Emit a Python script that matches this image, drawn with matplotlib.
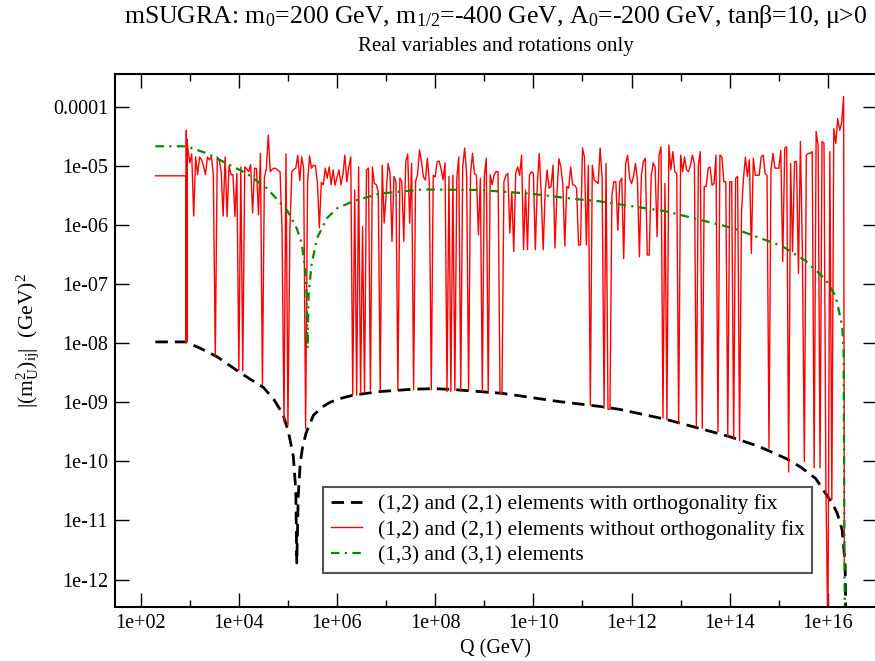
import numpy as np
import matplotlib
matplotlib.use("Agg")
import matplotlib.pyplot as plt
from matplotlib.ticker import FixedLocator, NullLocator, FuncFormatter, NullFormatter

# --- fonts: Times-like serif, mathtext in the same family ---
plt.rcParams["font.family"] = ["Liberation Serif", "DejaVu Serif"]
plt.rcParams["mathtext.fontset"] = "custom"
plt.rcParams["mathtext.rm"] = "Liberation Serif"
plt.rcParams["mathtext.it"] = "Liberation Serif:italic"
plt.rcParams["mathtext.bf"] = "Liberation Serif:bold"

# --- data, all as log10 values ---
# (1,2)/(2,1) elements with orthogonality fix
black_logq = [2.30, 2.93, 3.22, 3.555, 3.99, 4.25, 4.50, 4.71, 4.896, 5.01, 5.11, 5.16,
              5.18, 5.21, 5.25, 5.30, 5.37, 5.52, 5.70, 5.86, 6.10, 6.33, 6.87, 7.55,
              8.00, 8.43, 9.37, 10.53, 11.34, 11.75, 12.70, 13.99, 14.60, 15.14, 15.45,
              15.75, 15.95, 16.09, 16.19, 16.29, 16.35, 16.37]
black_logv = [-7.98, -7.98, -8.09, -8.23, -8.48, -8.62, -8.75, -8.95, -9.20, -9.50, -9.92, -10.5,
              -11.72, -10.6, -10.03, -9.75, -9.52, -9.22, -9.08, -9.00, -8.93, -8.88, -8.82, -8.78,
              -8.77, -8.79, -8.85, -8.99, -9.07, -9.12, -9.29, -9.58, -9.75, -9.95, -10.10,
              -10.29, -10.54, -10.71, -10.88, -11.16, -11.72, -13.0]

# (1,3)/(3,1) elements
green_logq = [2.30, 2.93, 3.35, 3.82, 4.16, 4.57, 4.98, 5.18, 5.28, 5.35, 5.38,
              5.40, 5.42, 5.48, 5.59, 5.79, 6.00, 6.33, 6.87, 7.75, 8.91, 9.92,
              10.94, 11.34, 12.70, 14.05, 15.07, 15.55, 15.95, 16.16, 16.29, 16.32, 16.345]
green_logv = [-4.67, -4.67, -4.79, -4.99, -5.13, -5.38, -5.75, -6.06, -6.31, -6.74, -7.19,
              -8.09, -7.19, -6.68, -6.23, -5.89, -5.72, -5.60, -5.47, -5.40, -5.41, -5.47,
              -5.57, -5.60, -5.77, -6.05, -6.36, -6.61, -6.92, -7.21, -7.71, -8.10, -13.0]

# (1,2)/(2,1) elements without orthogonality fix
red_head_logq = [2.30, 2.92, 2.925, 2.93, 2.935, 2.94, 2.945, 2.95]
red_head_logv = [-5.17, -5.17, -7.98, -4.40, -7.98, -4.55, -7.98, -4.62]
red_start = 2.96   # RGE output is evenly spaced in log Q from here
red_step = 0.04
red_rows = [
    [-4.70, -4.95, -4.80, -5.85, -4.85, -5.15, -4.85, -4.90, -5.00, -5.15, -4.85, -4.90, -4.85,
     -5.15, -8.22, -4.85, -4.90, -5.10, -5.85, -4.85, -5.86, -5.00, -5.15, -5.15, -5.86],
    [-5.13, -8.46, -5.02, -8.47, -5.02, -5.05, -5.10, -4.98, -5.80, -5.04, -5.05, -5.83, -4.79,
     -8.70, -5.20, -5.05, -4.48, -5.10, -5.06, -5.04, -5.05, -5.08, -5.10, -6.09, -9.33],
    [-4.80, -9.39, -6.08, -5.10, -5.06, -5.04, -4.82, -5.25, -4.85, -5.04, -9.45, -5.28, -4.83,
     -5.04, -4.99, -5.00, -5.27, -6.05, -5.28, -5.32, -5.04, -5.21, -5.02, -5.32, -5.07],
    [-5.33, -5.19, -5.07, -5.32, -5.15, -4.82, -5.27, -5.02, -4.85, -8.88, -5.41, -8.88, -5.02,
     -8.83, -6.03, -8.83, -5.07, -5.04, -8.80, -5.02, -5.30, -5.32, -5.44, -8.80, -4.99],
    [-5.97, -5.49, -4.96, -5.13, -6.28, -5.18, -5.27, -8.80, -5.21, -5.27, -6.28, -4.93, -4.80,
     -5.97, -4.96, -8.79, -5.27, -5.15, -4.73, -4.93, -5.19, -5.24, -4.87, -5.27, -8.79],
    [-5.16, -5.19, -4.93, -4.92, -5.05, -5.24, -4.95, -8.82, -5.18, -8.82, -5.16, -8.80, -5.21,
     -4.85, -8.82, -5.02, -4.70, -5.13, -8.80, -5.13, -4.79, -5.13, -5.16, -6.17, -5.21],
    [-8.82, -5.18, -4.87, -8.85, -5.15, -5.32, -5.15, -5.10, -5.10, -8.84, -8.85, -5.27, -5.16,
     -5.13, -6.14, -5.44, -6.45, -5.12, -5.02, -5.16, -4.82, -6.42, -5.41, -6.42, -5.16],
    [-5.10, -5.13, -6.42, -5.32, -4.79, -5.49, -6.42, -5.44, -5.07, -5.38, -5.35, -4.99, -6.39,
     -5.46, -4.88, -5.02, -5.32, -6.36, -5.35, -5.38, -5.02, -5.32, -5.33, -5.38, -6.34],
    [-6.34, -4.70, -4.85, -6.34, -4.99, -9.05, -4.99, -5.24, -5.27, -5.30, -4.70, -5.21, -9.10,
     -4.96, -9.12, -9.12, -5.49, -5.27, -5.27, -6.09, -5.27, -5.21, -6.57, -4.96, -4.82],
    [-5.21, -5.30, -5.18, -4.96, -5.24, -6.54, -5.16, -4.93, -4.87, -6.51, -6.51, -5.18, -4.95,
     -5.02, -6.20, -4.82, -4.68, -9.27, -5.30, -9.29, -4.65, -5.07, -4.76, -5.10, -5.13],
    [-9.36, -4.82, -5.10, -4.85, -5.07, -5.10, -4.99, -4.82, -4.96, -9.42, -4.99, -4.76, -9.44,
     -5.35, -5.35, -5.04, -5.02, -5.33, -5.30, -4.82, -9.50, -4.82, -4.85, -5.27, -5.27],
    [-9.58, -5.27, -5.27, -9.62, -5.21, -5.18, -9.65, -5.78, -5.21, -4.85, -5.18, -4.90, -6.48,
     -4.87, -5.16, -5.16, -5.16, -4.85, -4.82, -5.13, -5.16, -9.78, -5.07, -4.79, -5.04],
    [-5.04, -5.04, -4.74, -6.62, -4.70, -4.68, -10.18, -4.96, -6.45, -4.93, -4.93, -6.82, -4.59,
     -6.45, -10.00, -4.82, -4.79, -4.79, -4.76, -10.11, -4.42, -4.65, -10.11, -4.59, -4.62],
    [-10.50, -13.0, -4.76, -10.65, -4.37, -4.62, -4.20, -4.40, -4.27, -3.83],
]
red_tail_logq = [16.335]
red_tail_logv = [-11.72]

labels = ["(1,2) and (2,1) elements with orthogonality fix",
          "(1,2) and (2,1) elements without orthogonality fix",
          "(1,3) and (3,1) elements"]

# --- build the red series ---
red_grid = np.concatenate([np.array(r) for r in red_rows])
red_logq = np.concatenate([red_head_logq,
                           red_start + red_step * np.arange(len(red_grid)),
                           red_tail_logq])
red_logv = np.concatenate([red_head_logv, red_grid, red_tail_logv])

# --- figure ---
W, H = 875, 661
fig = plt.figure(figsize=(W / 100, H / 100), dpi=100)
ax = fig.add_axes([115 / W, (H - 607.3) / H, (877 - 115) / W, (607.3 - 74) / H])

ax.plot(10.0 ** np.array(black_logq), 10.0 ** np.array(black_logv),
        color="black", lw=2.0, linestyle=(0, (4.5, 2.5)), label=labels[0])
ax.plot(10.0 ** red_logq, 10.0 ** red_logv, color="#ff0000", lw=1.0, label=labels[1])
ax.plot(10.0 ** np.array(green_logq), 10.0 ** np.array(green_logv),
        color="#008b00", lw=1.6, linestyle=(0, (3.8, 2.4, 1.0, 2.4)), label=labels[2])

ax.set_xscale("log")
ax.set_yscale("log")
ax.set_xlim(10 ** 1.477, 1e17)
ax.set_ylim(10 ** -12.47, 10 ** -3.447)

ax.xaxis.set_major_locator(FixedLocator([10.0 ** k for k in range(2, 17, 2)]))
ax.xaxis.set_minor_locator(FixedLocator([10.0 ** k for k in range(3, 17, 2)]))
ax.xaxis.set_minor_formatter(NullFormatter())
ax.yaxis.set_major_locator(FixedLocator([10.0 ** k for k in range(-12, -3)]))
ax.yaxis.set_minor_locator(NullLocator())
ax.yaxis.set_minor_formatter(NullFormatter())
ax.xaxis.set_major_formatter(FuncFormatter(lambda v, p: "%.0e" % v))
ax.yaxis.set_major_formatter(FuncFormatter(lambda v, p: "%g" % v))

ax.tick_params(which="both", direction="in", top=True, right=True, width=1.0,
               labelsize=14.5)
ax.tick_params(which="major", length=10, pad=5)
ax.tick_params(which="minor", length=5)
for s in ax.spines.values():
    s.set_linewidth(1.5)

ax.set_xlabel("Q (GeV)", fontsize=14.5, labelpad=4)
ax.set_ylabel(r"|(m$^\mathrm{2}_\mathrm{U}$)$_\mathrm{ij}$|  (GeV)$^\mathrm{2}$",
              fontsize=15.5, labelpad=8)

leg = ax.legend(loc="upper left", bbox_to_anchor=(0.273, 0.2256), borderaxespad=0,
                fontsize=15.4, handlelength=1.45, handletextpad=0.75, borderpad=0.35,
                labelspacing=0.25, fancybox=False, framealpha=1)
leg.get_frame().set_edgecolor("#555555")
leg.get_frame().set_linewidth(1.5)

xc = (115 + 877) / 2 / W
fig.text(xc, 1 - 16 / H,
         r"mSUGRA: m$_\mathrm{0}$=200 GeV, m$_\mathrm{1/2}$=-400 GeV, "
         r"A$_\mathrm{0}$=-200 GeV, tanβ=10, μ>0",
         ha="center", va="center", fontsize=18.5)
fig.text(xc, 1 - 46 / H, "Real variables and rotations only",
         ha="center", va="center", fontsize=15)

fig.savefig("out.png", dpi=100)
